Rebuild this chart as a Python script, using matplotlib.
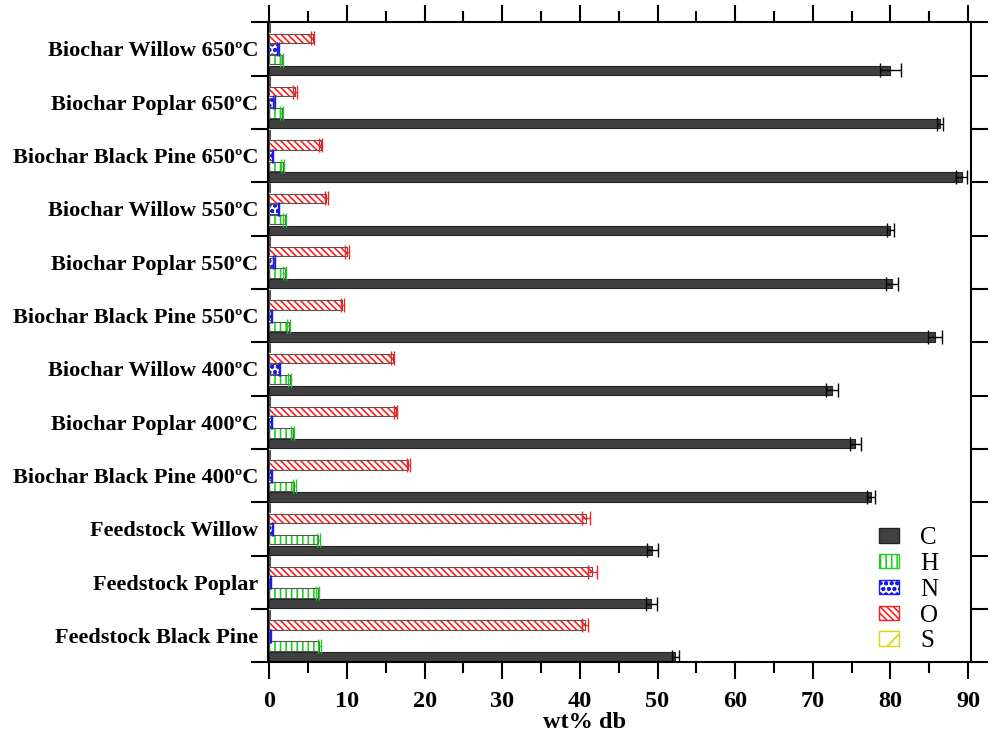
import numpy as np
import matplotlib
matplotlib.use("Agg")
import matplotlib.pyplot as plt
from matplotlib.ticker import MultipleLocator, FixedLocator
from matplotlib.patches import Patch

plt.rcParams['font.family'] = ['Liberation Serif', 'DejaVu Serif']
plt.rcParams['hatch.linewidth'] = 1.2

# categories from bottom to top
samples = ["Feedstock Black Pine", "Feedstock Poplar", "Feedstock Willow",
           "Biochar Black Pine 400ºC", "Biochar Poplar 400ºC", "Biochar Willow 400ºC",
           "Biochar Black Pine 550ºC", "Biochar Poplar 550ºC", "Biochar Willow 550ºC",
           "Biochar Black Pine 650ºC", "Biochar Poplar 650ºC", "Biochar Willow 650ºC"]

C = [52.3, 49.2, 49.3, 77.5, 75.5, 72.5, 85.8, 80.2, 80.0, 89.2, 86.4, 80.0]
C_err = [0.4, 0.7, 0.7, 0.5, 0.7, 0.8, 0.9, 0.8, 0.5, 0.7, 0.4, 1.3]
H = [6.4, 6.2, 6.3, 3.2, 3.0, 2.6, 2.5, 2.0, 2.0, 1.7, 1.6, 1.6]
H_err = [0.2, 0.2, 0.2, 0.2, 0.2, 0.2, 0.2, 0.2, 0.2, 0.2, 0.2, 0.2]
N = [0.1, 0.15, 0.4, 0.3, 0.3, 1.3, 0.3, 0.6, 1.2, 0.4, 0.6, 1.1]
N_err = [0.05, 0.05, 0.05, 0.05, 0.05, 0.1, 0.05, 0.1, 0.1, 0.05, 0.1, 0.1]
O = [40.7, 41.6, 40.8, 17.9, 16.3, 15.9, 9.4, 10.0, 7.3, 6.6, 3.3, 5.6]
O_err = [0.4, 0.6, 0.5, 0.2, 0.2, 0.2, 0.2, 0.2, 0.2, 0.2, 0.2, 0.2]
S = [0.05, 0.05, 0.05, 0.05, 0.05, 0.05, 0.05, 0.05, 0.05, 0.05, 0.05, 0.05]

elements = ["C", "H", "N", "O", "S"]
values = [C, H, N, O, S]
errors = [C_err, H_err, N_err, O_err, [0] * len(S)]
faces = ["#404040", "white", "white", "white", "white"]
hatch_cols = ["#404040", "#22cc22", "#1a1aee", "#ff2020", "#d8d800"]
hatches = [None, "|||", "ooo", "\\\\\\\\\\", "/"]
err_cols = ["black", "#22cc22", "#1a1aee", "#ff2020", "#d8d800"]

fig, ax = plt.subplots(figsize=(9.92, 7.44), dpi=100)
fig.subplots_adjust(left=0.270, right=0.979, bottom=0.110, top=0.970)

y = np.arange(len(samples))
slot = 0.2
bh = 0.175
offsets = [-2, -1, 0, 1, 2]  # C lowest, S top

for i, el in enumerate(elements):
    yy = y + offsets[i] * slot
    if hatches[i] is None:
        ax.barh(yy, values[i], height=bh, color=faces[i], edgecolor="#222222", linewidth=0.8)
    else:
        ax.barh(yy, values[i], height=bh, color="white", edgecolor=hatch_cols[i],
                hatch=hatches[i], linewidth=0)
        ax.barh(yy, values[i], height=bh, fill=False, edgecolor="#555555", linewidth=0.8)
    if el != "S":
        ax.errorbar(values[i], yy, xerr=errors[i], fmt="none", ecolor=err_cols[i],
                    elinewidth=1.0, capsize=5, capthick=1.0)

ax.set_xlim(-0.2, 90.4)
ax.set_ylim(-0.5, len(samples) - 0.5)

ax.xaxis.set_major_locator(MultipleLocator(10))
ax.xaxis.set_minor_locator(MultipleLocator(5))
ax.yaxis.set_major_locator(FixedLocator(y))
ax.yaxis.set_minor_locator(FixedLocator(np.arange(len(samples) + 1) - 0.5))
ax.set_yticklabels(samples, fontsize=16, fontweight="bold")
for lab in ax.get_xticklabels():
    lab.set_fontsize(17.5)
    lab.set_fontweight("bold")

ax.tick_params(axis="x", which="major", direction="out", length=12, width=1.5,
               top=True, bottom=True, pad=9)
ax.tick_params(axis="x", which="minor", direction="out", length=8, width=1.5,
               top=True, bottom=True)
ax.tick_params(axis="y", which="major", length=0, pad=7)
ax.tick_params(axis="y", which="minor", direction="out", length=12, width=1.5,
               left=True, right=True)
for sp in ax.spines.values():
    sp.set_linewidth(1.5)

ax.set_xlabel("wt% db", fontsize=17.5, fontweight="bold")
ax.xaxis.set_label_coords(0.45, -0.078)

handles = []
for i, el in enumerate(elements):
    if hatches[i] is None:
        handles.append(Patch(facecolor=faces[i], edgecolor="#222222", label=el))
    else:
        handles.append(Patch(facecolor="white", edgecolor=hatch_cols[i], hatch=hatches[i], label=el))
ax.legend(handles=handles, loc="lower right", frameon=False, fontsize=18,
          handlelength=0.8, handleheight=0.5, labelspacing=0.15, handletextpad=0.85,
          bbox_to_anchor=(0.985, -0.02))

fig.savefig("out.png", dpi=100)
